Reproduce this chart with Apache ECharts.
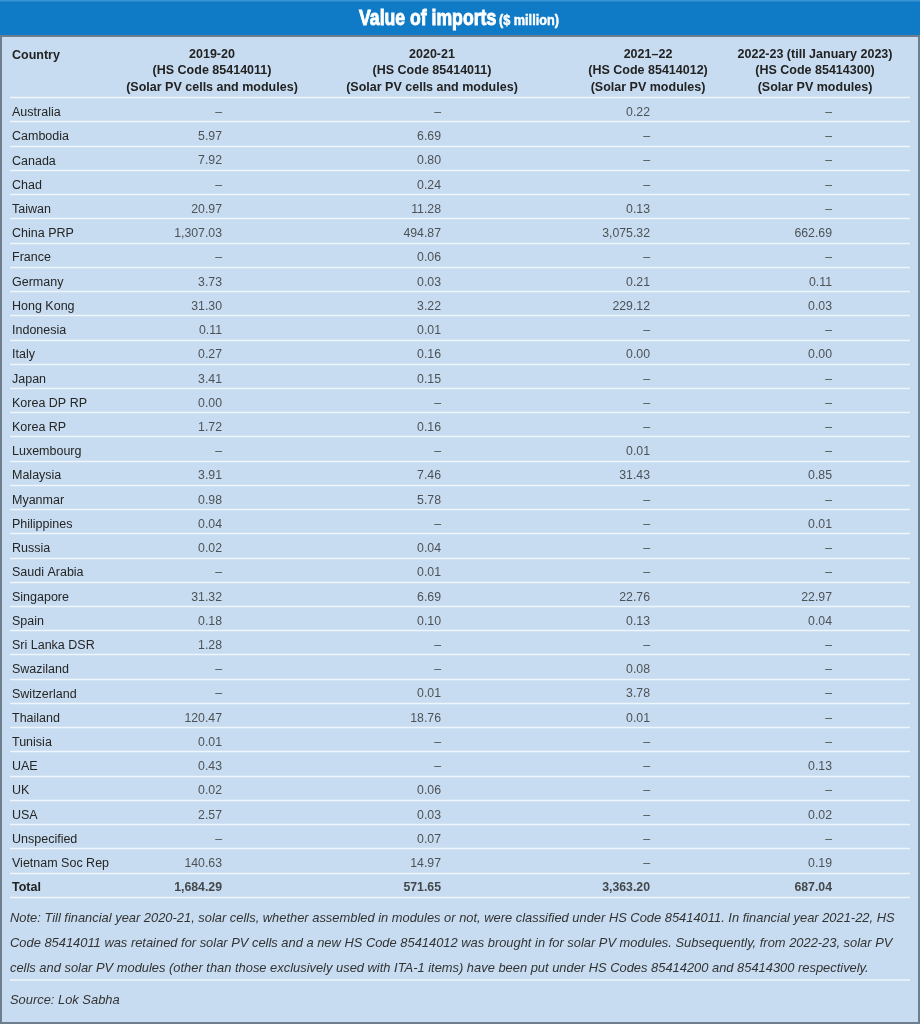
<!DOCTYPE html>
<html>
<head>
<meta charset="utf-8">
<style>html,body{margin:0;padding:0;background:#c7dcf0;}#chart{width:920px;height:1024px;}</style>
<script src="https://cdn.jsdelivr.net/npm/echarts@6/dist/echarts.min.js"></script>
</head>
<body>
<div id="chart"></div>
<script>
// ---- data ----
const countries = ['Australia','Cambodia','Canada','Chad','Taiwan','China PRP','France','Germany','Hong Kong','Indonesia','Italy','Japan','Korea DP RP','Korea RP','Luxembourg','Malaysia','Myanmar','Philippines','Russia','Saudi Arabia','Singapore','Spain','Sri Lanka DSR','Swaziland','Switzerland','Thailand','Tunisia','UAE','UK','USA','Unspecified','Vietnam Soc Rep','Total'];
const v2019_20 = [null,5.97,7.92,null,20.97,1307.03,null,3.73,31.30,0.11,0.27,3.41,0.00,1.72,null,3.91,0.98,0.04,0.02,null,31.32,0.18,1.28,null,null,120.47,0.01,0.43,0.02,2.57,null,140.63,1684.29];
const v2020_21 = [null,6.69,0.80,0.24,11.28,494.87,0.06,0.03,3.22,0.01,0.16,0.15,null,0.16,null,7.46,5.78,null,0.04,0.01,6.69,0.10,null,null,0.01,18.76,null,null,0.06,0.03,0.07,14.97,571.65];
const v2021_22 = [0.22,null,null,null,0.13,3075.32,null,0.21,229.12,null,0.00,null,null,null,0.01,31.43,null,null,null,null,22.76,0.13,null,0.08,3.78,0.01,null,null,null,null,null,null,3363.20];
const v2022_23 = [null,null,null,null,null,662.69,null,0.11,0.03,null,0.00,null,null,null,null,0.85,null,0.01,null,null,22.97,0.04,null,null,null,null,null,0.13,null,0.02,null,0.19,687.04];
const columnHeaders = [
  '2019-20\n(HS Code 85414011)\n(Solar PV cells and modules)',
  '2020-21\n(HS Code 85414011)\n(Solar PV cells and modules)',
  '2021–22\n(HS Code 85414012)\n(Solar PV modules)',
  '2022-23 (till January 2023)\n(HS Code 85414300)\n(Solar PV modules)'
];
const titleMain = 'Value of imports';
const titleUnit = '($ million)';
const countryHeader = 'Country';
const noteLines = [
  'Note: Till financial year 2020-21, solar cells, whether assembled in modules or not, were classified under HS Code 85414011. In financial year 2021-22, HS',
  'Code 85414011 was retained for solar PV cells and a new HS Code 85414012 was brought in for solar PV modules. Subsequently, from 2022-23, solar PV',
  'cells and solar PV modules (other than those exclusively used with ITA-1 items) have been put under HS Codes 85414200 and 85414300 respectively.'
];
const sourceText = 'Source: Lok Sabha';
const columns = [v2019_20, v2020_21, v2021_22, v2022_23];

// ---- layout / style ----
const FONT = "'Liberation Sans', Arial, Helvetica, sans-serif";
const TOP = 97.5, BOTTOM = 1024 - 897;
const colGrids = [
  {left: 112, width: 200, dx: 10},
  {left: 332, width: 200, dx: 9},
  {left: 558, width: 180, dx: 2},
  {left: 725, width: 180, dx: 17}
];
const fmt = v => v === null ? '–' : v.toLocaleString('en-US', {minimumFractionDigits: 2, maximumFractionDigits: 2});

const grid = [{left: 10, right: 10, top: TOP, bottom: BOTTOM}];
const xAxis = [{type: 'value', gridIndex: 0, show: false}];
const yAxis = [{
  type: 'category', gridIndex: 0, data: countries, inverse: true,
  axisLine: {show: false}, axisTick: {show: false},
  splitLine: {show: true, lineStyle: {color: '#eef5fc', width: 1.3}},
  axisLabel: {
    inside: true, margin: 2, interval: 0, color: '#252525', fontSize: 12.5, fontFamily: FONT,
    padding: [6, 0, 0, 0],
    formatter: v => v === 'Total' ? '{b|' + v + '}' : v,
    rich: {b: {fontWeight: 'bold', fontSize: 12.5, fontFamily: FONT, color: '#222'}}
  }
}];
const series = [];
colGrids.forEach((g, i) => {
  grid.push({left: g.left, width: g.width, top: TOP, bottom: BOTTOM});
  xAxis.push({
    type: 'category', gridIndex: i + 1, position: 'top', data: [columnHeaders[i]],
    axisLine: {show: false}, axisTick: {show: false}, splitLine: {show: false},
    axisLabel: {interval: 0, margin: 2, color: '#222', fontWeight: 'bold', fontSize: 12.5, lineHeight: 16.5, fontFamily: FONT}
  });
  yAxis.push({type: 'category', gridIndex: i + 1, data: countries, inverse: true, show: false});
  series.push({
    type: 'scatter', xAxisIndex: i + 1, yAxisIndex: i + 1, symbolSize: 1, silent: true,
    itemStyle: {color: 'rgba(0,0,0,0)'},
    label: {show: true, position: 'inside', align: 'right', offset: [g.dx, 3],
      color: '#2e2e2e', fontSize: 12.3, fontFamily: FONT,
      formatter: p => fmt(p.data.raw)},
    data: columns[i].map((v, j) => {
      const item = {value: [0, j], raw: v};
      if (countries[j] === 'Total') item.label = {fontWeight: 'bold', color: '#222'};
      return item;
    })
  });
});

const chart = echarts.init(document.getElementById('chart'), null, {renderer: 'canvas'});
chart.setOption({
  animation: false,
  backgroundColor: '#c7dcf0',
  title: [
    {text: countryHeader, left: 12, top: 47.5, padding: 0, textStyle: {fontFamily: FONT, fontWeight: 'bold', fontSize: 12.5, color: '#222', lineHeight: 17}},
    {text: noteLines.join('\n'), left: 10, top: 905.5, padding: 0, textStyle: {fontFamily: FONT, fontStyle: 'italic', fontWeight: 'normal', fontSize: 12.9, lineHeight: 25, color: '#333'}},
    {text: sourceText, left: 10, top: 987.5, padding: 0, textStyle: {fontFamily: FONT, fontStyle: 'italic', fontWeight: 'normal', fontSize: 12.9, lineHeight: 25, color: '#333'}}
  ],
  graphic: [
    {type: 'rect', z: -10, shape: {x: 0, y: 0, width: 920, height: 36}, style: {fill: '#0f7bc6'}},
    {type: 'rect', z: -9, shape: {x: 0, y: 0, width: 920, height: 1.5}, style: {fill: '#3a94d4'}},
    {type: 'text', z: 10, x: 459, y: 19.5, scaleX: 0.82,
      style: {text: '{a|' + titleMain + '} {b|' + titleUnit + '}', align: 'center', verticalAlign: 'middle',
        rich: {
          a: {fontFamily: FONT, fontWeight: 'bold', fontSize: 21.5, fill: '#fff', stroke: '#fff', lineWidth: 0.9, lineHeight: 26},
          b: {fontFamily: FONT, fontWeight: 'bold', fontSize: 15.5, fill: '#fff', stroke: '#fff', lineWidth: 0.5, lineHeight: 26, padding: [3, 0, 0, 0]}
        }}},
    {type: 'rect', z: 50, shape: {x: 1, y: 36, width: 918, height: 987}, style: {fill: 'none', stroke: '#6e7e8c', lineWidth: 2}},
    {type: 'line', z: 5, shape: {x1: 10, y1: 980, x2: 910, y2: 980}, style: {stroke: '#eef5fc', lineWidth: 1.3}}
  ],
  grid, xAxis, yAxis, series
});
</script>
</body>
</html>
